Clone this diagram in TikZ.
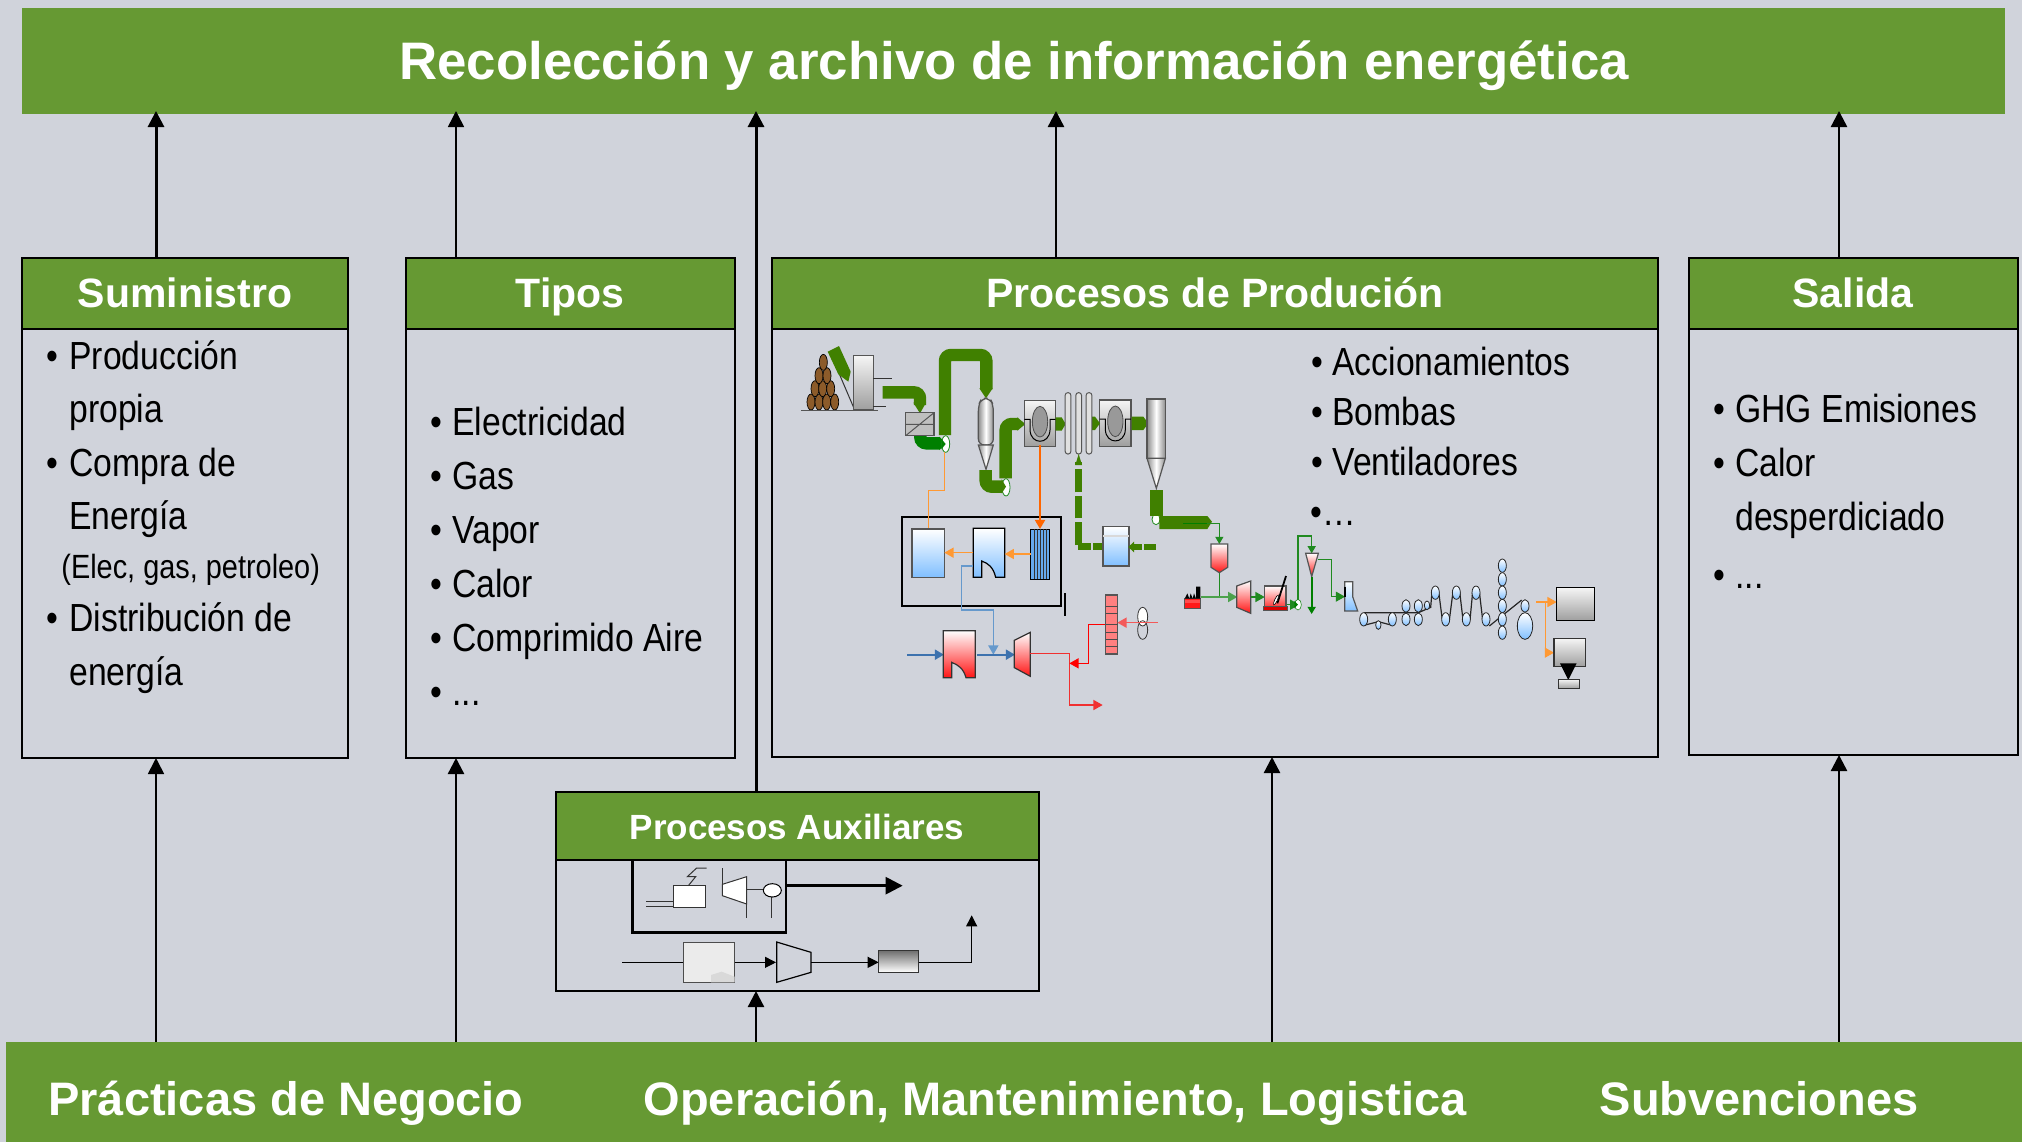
\documentclass[tikz,border=0pt]{standalone}
\usepackage{fontspec}
\setmainfont{Liberation Sans}
\newfontfamily\narrowf[FakeStretch=0.86]{Liberation Sans}
\usetikzlibrary{arrows.meta}
\definecolor{bgc}{HTML}{D0D3DB}
\definecolor{hdr}{HTML}{669933}
\definecolor{pipe}{HTML}{408000}
\definecolor{dgreen}{HTML}{007F00}
\definecolor{lgreen}{HTML}{208A20}
\definecolor{orl}{HTML}{FF9933}
\definecolor{orh}{HTML}{FF6600}
\definecolor{bll}{HTML}{6699CC}
\definecolor{bld}{HTML}{3D72AE}
\definecolor{redl}{HTML}{F03030}
\definecolor{edge}{HTML}{555555}
\definecolor{skyb}{HTML}{80BFFF}
\definecolor{gridb}{HTML}{66AAEE}
\tikzset{
  boxhead/.style={fill=hdr,draw=black,line width=1.2pt},
  boxbody/.style={draw=black,line width=1.2pt},
  bannertxt/.style={anchor=base,text=white,font=\bfseries\fontsize{26.4}{26}\selectfont,inner sep=0},
  foottxt/.style={anchor=base,text=white,font=\bfseries\fontsize{23.5}{24}\selectfont,inner sep=0},
  headtxt/.style={anchor=base,text=white,font=\bfseries\fontsize{20.5}{20}\selectfont,inner sep=0},
  auxtxt/.style={anchor=base,text=white,font=\bfseries\fontsize{17.5}{17}\selectfont,inner sep=0},
  itm/.style={anchor=base west,font=\narrowf\fontsize{19.6}{20}\selectfont,inner sep=0},
  sm/.style={anchor=base west,font=\narrowf\fontsize{16.8}{16}\selectfont,inner sep=0},
  up/.style={-{Triangle[length=8pt,width=8pt]},black},
  tipS/.style={-{Triangle[length=3.6pt,width=4pt]}},
  tipM/.style={-{Triangle[length=4.6pt,width=5pt]}},
  bluegrad/.style={top color=white,bottom color=skyb,draw=edge,line width=.6pt},
  redgrad/.style={top color=white,bottom color=red!92!white,draw=edge,line width=.6pt},
  steel/.style={top color=white!96!black,bottom color=black!38,draw=edge,line width=.6pt},
  cyl/.style={left color=black!45,right color=black!45,middle color=white,draw=edge,line width=.6pt},
  pipeline/.style={pipe,line width=6.2pt,rounded corners=3pt},
  thin/.style={line width=.5pt},
}
\begin{document}
\begin{tikzpicture}[x=0.5pt,y=-0.5pt]
\useasboundingbox (0,0) rectangle (2022,1142);
\fill[bgc] (0,0) rectangle (2022,1142);

% banners
\path[fill=hdr] (22,8) rectangle (2005,114);
\path[fill=hdr] (6,1042) rectangle (2022,1142);
\coordinate (titleS) at (1000,114);
\coordinate (footN) at (1000,1042);
\node[bannertxt] (title) at (1014,79) {Recolección y archivo de información energética};
\node[foottxt] (f1) at (286,1115) {Prácticas de Negocio};
\node[foottxt] (f2) at (1055,1115) {Operación, Mantenimiento, Logistica};
\node[foottxt] (f3) at (1759,1115) {Subvenciones};

% boxes
\draw[boxbody] (22,258) rectangle (348,758);
\draw[boxhead] (22,258) rectangle (348,329);
\draw[boxbody] (406,258) rectangle (735,758);
\draw[boxhead] (406,258) rectangle (735,329);
\draw[boxbody] (772,258) rectangle (1658,757);
\draw[boxhead] (772,258) rectangle (1658,329);
\draw[boxbody] (1689,258) rectangle (2018,755);
\draw[boxhead] (1689,258) rectangle (2018,329);
\draw[boxbody] (556,792) rectangle (1039,991);
\draw[boxhead] (556,792) rectangle (1039,860);

\coordinate (sumN) at (185,258); \coordinate (sumS) at (185,758);
\coordinate (tipN) at (570,258); \coordinate (tipS) at (570,758);
\coordinate (proN) at (1214,258); \coordinate (proS) at (1214,757);
\coordinate (salN) at (1853,258); \coordinate (salS) at (1853,755);
\coordinate (auxN) at (797,792); \coordinate (auxS) at (797,991);
\coordinate (a1) at (156,0); \coordinate (a2) at (456,0); \coordinate (a3) at (756,0);
\coordinate (a4) at (1056,0); \coordinate (a5) at (1839,0); \coordinate (a6) at (1272,0);

% arrows to title
\draw[up,line width=1.5pt] (sumN-|a1) -- ([yshift=1.5pt]titleS-|a1);
\draw[up,line width=.8pt] (tipN-|a2) -- ([yshift=1.5pt]titleS-|a2);
\draw[up,line width=1.5pt] (auxN-|a3) -- ([yshift=1.5pt]titleS-|a3);
\draw[up,line width=1.2pt] (proN-|a4) -- ([yshift=1.5pt]titleS-|a4);
\draw[up,line width=1.2pt] (salN-|a5) -- ([yshift=1.5pt]titleS-|a5);
% arrows from footer
\draw[up,line width=.9pt] (footN-|a1) -- (sumS-|a1);
\draw[up,line width=1.2pt] (footN-|a2) -- (tipS-|a2);
\draw[up,line width=1.2pt] (footN-|a3) -- (auxS-|a3);
\draw[up,line width=1.2pt] (footN-|a6) -- (proS-|a6);
\draw[up,line width=1.2pt] (footN-|a5) -- (salS-|a5);

% heads
\node[headtxt] (hsum) at (185,307) {Suministro};
\node[headtxt] (htip) at (570,307) {Tipos};
\node[headtxt] (hpro) at (1215,307) {Procesos de Produción};
\node[headtxt] (hsal) at (1853,307) {Salida};
\node[auxtxt] (haux) at (797,839) {Procesos Auxiliares};

% lists
\node[itm] (s1b) at (46,369) {•}; \node[itm] (s1) at (69,369) {Producción};
\node[itm] (s2) at (69,422) {propia};
\node[itm] (s3b) at (46,476) {•}; \node[itm] (s3) at (69,476) {Compra de};
\node[itm] (s4) at (69,529) {Energía};
\node[sm] (s5) at (61,578) {(Elec, gas, petroleo)};
\node[itm] (s6b) at (46,631) {•}; \node[itm] (s6) at (69,631) {Distribución de};
\node[itm] (s7) at (69,685) {energía};

\node[itm] (t1b) at (430,435) {•}; \node[itm] (t1) at (452,435) {Electricidad};
\node[itm] (t2b) at (430,489) {•}; \node[itm] (t2) at (452,489) {Gas};
\node[itm] (t3b) at (430,543) {•}; \node[itm] (t3) at (452,543) {Vapor};
\node[itm] (t4b) at (430,597) {•}; \node[itm] (t4) at (452,597) {Calor};
\node[itm] (t5b) at (430,651) {•}; \node[itm] (t5) at (452,651) {Comprimido Aire};
\node[itm] (t6b) at (430,705) {•}; \node[itm] (t6) at (452,705) {...};

\node[itm] (p1b) at (1311,375) {•}; \node[itm] (p1) at (1332,375) {Accionamientos};
\node[itm] (p2b) at (1311,425) {•}; \node[itm] (p2) at (1332,425) {Bombas};
\node[itm] (p3b) at (1311,475) {•}; \node[itm] (p3) at (1332,475) {Ventiladores};
\node[itm] (p4b) at (1310,525) {•…};

\node[itm] (o1b) at (1713,422) {•}; \node[itm] (o1) at (1735,422) {GHG Emisiones};
\node[itm] (o2b) at (1713,476) {•}; \node[itm] (o2) at (1735,476) {Calor};
\node[itm] (o3) at (1735,530) {desperdiciado};
\node[itm] (o4b) at (1713,588) {•}; \node[itm] (o4) at (1735,588) {...};

% ===== process schematic, part 1 (zoom coordinates)
\begin{scope}[shift={(780,330)},scale=1/3]
  % logs
  \foreach \x/\y in {93/216,117/216,140/216,164/216,105/176,128/176,152/176,117/137,141/137,130/97}
    \draw[fill=brown!70!black!95!orange,draw=black,line width=.35pt] (\x,\y) ellipse [x radius=12,y radius=24];
  \draw[edge,line width=.6pt] (63,241) -- (295,241);
  \draw[thin,black!80] (175,125) -- (222,235);
  \fill[pipe] (143,65) -- (177,48) -- (212,125) -- (205,155) -- (175,133) -- cycle;
  \path[steel] (221,77) rectangle (280,240);
  \draw[thin,black!80] (280,145) -- (335,145) (280,228) -- (318,228);
  % pipes
  \draw[pipeline] (308,187) -- (420,187) -- (420,225);
  \fill[pipe] (400,218) -- (438,218) -- (420,250) -- cycle;
  \path[fill=black!25,draw=edge,line width=.6pt] (377,248) rectangle (462,317);
  \draw[edge,line width=.5pt] (377,283) -- (462,283) (377,317) -- (462,248);
  \draw[pipeline] (495,315) -- (495,75) -- (619,75) -- (619,178);
  \fill[pipe] (598,175) -- (638,175) -- (618,205) -- cycle;
  \draw[dgreen,line width=6.2pt,rounded corners=3pt] (421,318) -- (421,340) -- (480,340);
  \fill[dgreen] (478,320) -- (498,340) -- (478,360) -- cycle;
  \draw[fill=white,draw=lgreen,line width=.4pt] (497,342) ellipse [x radius=12,y radius=25];
  \fill[dgreen] (484,326) -- (497,342) -- (484,358) -- cycle;
  % cyclone 1
  \path[cyl,rounded corners=3pt] (595,345) -- (595,225) -- (605,205) -- (630,205) -- (640,225) -- (640,345) -- cycle;
  \path[cyl] (595,345) -- (640,345) -- (618,418) -- cycle;
  % pipe 2
  \draw[pipeline] (617,420) -- (617,470) -- (670,470);
  \draw[fill=white,draw=lgreen,line width=.4pt] (678,472) ellipse [x radius=12,y radius=26];
  \fill[pipe] (665,448) -- (678,470) -- (665,490) -- cycle;
  \draw[pipeline] (677,445) -- (677,282) -- (715,282);
  \fill[pipe] (712,262) -- (736,282) -- (712,302) -- cycle;
  % mills
  \foreach \dx/\dy in {0/0,226/-1}{
    \path[steel] (733+\dx,211+\dy) rectangle (827+\dx,350+\dy);
    \draw[fill=black!40,draw=black!70,line width=.4pt] (780+\dx,275+\dy) ellipse [x radius=23,y radius=46];
    \draw[black,line width=.5pt] (733+\dx,268+\dy) -- (750+\dx,268+\dy) -- (750+\dx,300+\dy) .. controls (752+\dx,345+\dy) and (808+\dx,345+\dy) .. (810+\dx,300+\dy) -- (810+\dx,268+\dy) -- (827+\dx,268+\dy);
  }
  \fill[pipe] (827,262) -- (845,262) -- (857,282) -- (845,302) -- (827,302) -- cycle;
  \fill[pipe] (935,260) -- (945,260) -- (960,280) -- (945,300) -- (935,300) -- cycle;
  \fill[pipe] (1055,260) -- (1090,260) -- (1105,280) -- (1090,300) -- (1055,300) -- cycle;
  % tube bundle
  \foreach \x in {864,896,927}
    \draw[fill=white!88!black,draw=edge,line width=.5pt,rounded corners=1.3pt] (\x-8.5,188) rectangle (\x+8.5,372);
  % cyclone 2
  \path[cyl] (1101,207) rectangle (1156,385);
  \path[cyl] (1101,385) -- (1156,385) -- (1129,475) -- cycle;
  % pipe 3
  \draw[fill=white,draw=lgreen,line width=.4pt] (1128,568) ellipse [x radius=12,y radius=16];
  \fill[pipe] (1110,479) -- (1149,479) -- (1149,558) -- (1110,558) -- cycle;
  \fill[pipe] (1138,558) -- (1282,558) -- (1296,575) -- (1282,597) -- (1138,597) -- cycle;
  \draw[dgreen,line width=.6pt] (1210,581) -- (1280,581);
  \draw[lgreen,line width=.6pt,tipS] (1280,581) -- (1318,581) -- (1318,642);
  % dashed feed
  \draw[pipe,line width=3.2pt] (896,645) -- (896,575) (896,565) -- (896,497) (896,487) -- (896,418) (896,405) -- (896,395);
  \fill[pipe] (886,405) -- (906,405) -- (896,372) -- cycle;
  \draw[pipe,line width=3.2pt] (893,650) -- (933,650) (940,650) -- (970,650);
  \path[bluegrad] (969,590) rectangle (1047,708);
  \draw[black!15,line width=.8pt] (970,618) -- (1046,618);
  \draw[pipe,line width=3.2pt] (1127,651) -- (1093,651) (1085,651) -- (1060,651);
  \fill[pipe] (1062,635) -- (1062,667) -- (1045,651) -- cycle;
  % boiler house
  \draw[black,line width=1.1pt] (366,562) rectangle (844,828);
  \draw[black,line width=1.1pt] (855,790) -- (855,858);
  \draw[orl,line width=.7pt] (493,365) -- (493,482) -- (445,482) -- (445,597);
  \draw[orh,line width=1.2pt,tipM] (780,345) -- (780,597);
  \path[bluegrad] (396,597) rectangle (493,742);
  \path[bluegrad,draw=black] (580,595) -- (674,595) -- (674,742) -- (647,742) .. controls (640,712) and (625,700) .. (605,693) -- (605,742) -- (580,742) -- cycle;
  \path[fill=gridb,draw=black,line width=.5pt] (752,597) rectangle (808,748);
  \foreach \x in {762,771,780,790,799} \draw[black!80,line width=.5pt] (\x,597) -- (\x,748);
  \draw[orl,line width=.7pt,tipM] (752,672) -- (674,672);
  \draw[orl,line width=.7pt,tipM] (580,668) -- (493,668);
\end{scope}

% ===== process schematic, part 2
\begin{scope}[shift={(880,500)},scale=1/3]
  \draw[bll,line width=.7pt,tipM] (278,198) -- (245,198) -- (245,330) -- (340,330) -- (340,464);
  \draw[bld,line width=1.1pt,tipM] (82,464) -- (192,464);
  \draw[bld,line width=1.1pt,tipM] (291,464) -- (405,464);
  \path[redgrad,draw=black!80] (190,392) -- (286,392) -- (286,533) -- (258,533) .. controls (250,505) and (235,495) .. (215,487) -- (215,533) -- (190,533) -- cycle;
  \path[redgrad,draw=black!80] (403,421) -- (451,397) -- (451,529) -- (403,503) -- cycle;
  \draw[redl,line width=.7pt,tipM] (451,461) -- (568,461) -- (568,615) -- (668,615);
  \draw[red,line width=.6pt,tipM] (677,373) -- (625,373) -- (625,490) -- (568,490);
  \path[fill=red!50,draw=edge,line width=.6pt] (677,285) rectangle (713,462);
  \foreach \y in {319,341,374,396,418,440} \draw[black!70,line width=.4pt] (677,\y) -- (713,\y);
  \draw[fill=white,draw=black!80,line width=.4pt] (788,350) ellipse [x radius=15,y radius=28];
  \draw[black!80,line width=.4pt] (788,390) ellipse [x radius=15,y radius=28];
  \draw[redl!80,line width=.8pt,tipM] (833,368) -- (712,368);
  % factory
  \path[fill=red!90,draw=edge,line width=.4pt] (913,296) rectangle (961,325);
  \fill[white!30!red] (914,300) rectangle (960,310);
  \fill[black] (914,296) -- (922,280) -- (928,296) -- (932,280) -- (938,296) -- (942,280) -- (948,296) -- (948,260) -- (961,260) -- (961,296) -- cycle;
  % green line & hopper
  \draw[lgreen,line width=.7pt] (1018,215) -- (1018,291);
  \draw[lgreen!80,line width=.8pt,tipM] (962,291) -- (1072,291);
  \path[redgrad] (993,132) -- (1043,132) -- (1043,202) -- (1018,218) -- (993,202) -- cycle;
  \path[redgrad,draw=black!70] (1070,258) -- (1112,243) -- (1112,340) -- (1070,322) -- cycle;
\end{scope}

% ===== process schematic, part 3
\begin{scope}[shift={(1170,520)},scale=1/3]
  \draw[lgreen,line width=.7pt,tipM] (243,231) -- (284,231);
  \path[redgrad] (283,198) rectangle (348,272);
  \path[fill=red!85!black,draw=edge,line width=.4pt] (280,258) rectangle (352,272);
  \draw[black,line width=.9pt] (348,168) -- (322,250);
  \draw[fill=white,draw=black,line width=.3pt,rotate around={-25:(318,240)}] (318,240) ellipse [x radius=4,y radius=16];
  \draw[lgreen,line width=.7pt,tipM] (352,254) -- (388,254);
  \draw[fill=white,draw=lgreen,line width=.3pt] (384,254) ellipse [x radius=10,y radius=16];
  \fill[dgreen] (373,243) -- (384,254) -- (373,265) -- cycle;
  \draw[lgreen,line width=.7pt,tipS] (384,240) -- (384,48) -- (425,48) -- (425,100);
  \path[redgrad] (407,100) -- (445,100) -- (425,170) -- cycle;
  \draw[dgreen,line width=1pt,tipS] (425,170) -- (425,282);
  \draw[lgreen,line width=.6pt,tipM] (445,118) -- (485,118) -- (485,230) -- (525,230);
  \path[bluegrad] (524,185) -- (548,185) -- (548,230) -- (563,273) -- (524,273) -- cycle;
  \draw[black,line width=1pt] (524,200) -- (524,230);
  % web
  \draw[black!85,line width=.6pt] (581,278) -- (745,278) -- (782,262) -- (786,215);
  \draw[black!85,line width=.6pt] (581,316) -- (625,305) -- (667,316);
  \draw[black!85,line width=.6pt] (806,215) -- (817,300) (838,300) -- (849,215) (869,215) -- (879,300) (900,300) -- (908,215) (928,215) -- (938,300) (958,318) -- (1055,240);
  \foreach \x/\y/\a/\b in {581/298/12/20,625/315/8/13,667/298/12/20,708/258/12/19,708/298/12/19,745/258/12/19,745/298/12/19,771/256/8/13,796/218/12/20,827/298/12/20,859/218/12/20,889/298/12/20,918/218/12/20,948/298/12/20,997/137/12/20,997/178/12/20,997/218/12/20,997/258/12/20,997/298/12/20,997/338/12/20,1065/258/12/19,1065/318/23/40}
    \draw[top color=white,bottom color=skyb,draw=black!85,line width=.4pt] (\x,\y) ellipse [x radius=\a,y radius=\b];
  % reels
  \draw[orl,line width=.7pt,tipM] (1098,246) -- (1160,246);
  \draw[orl,line width=.7pt,tipM] (1126,246) -- (1126,398) -- (1152,398);
  \path[steel,draw=black] (1160,203) rectangle (1274,302);
  \path[steel,draw=black!80] (1152,355) rectangle (1247,440);
  \fill[black] (1170,430) -- (1220,430) -- (1195,480) -- cycle;
  \path[steel,draw=black!80] (1166,478) rectangle (1229,506);
\end{scope}

% ===== auxiliary processes
\begin{scope}[shift={(550,780)},scale=1/3]
  \draw[black,line width=1.2pt] (248,238) -- (248,457) -- (708,457) -- (708,238);
  \draw[black!80,line width=.5pt] (288,365) -- (371,365) (288,380) -- (371,380);
  \path[fill=white,draw=black!80,line width=.5pt] (371,317) rectangle (467,383);
  \draw[black!80,line width=.5pt] (470,264) -- (440,264) -- (412,290) -- (437,290) -- (415,317);
  \draw[black!80,line width=.5pt] (517,264) -- (517,347) (590,372) -- (590,415) (590,329) -- (640,329) (665,352) -- (665,415);
  \path[fill=white,draw=black!80,line width=.5pt] (517,313) -- (590,290) -- (590,372) -- (517,347) -- cycle;
  \path[fill=white,draw=black,line width=.5pt] (667,331) ellipse [x radius=27,y radius=20];
  \draw[black,line width=1.3pt,-{Triangle[length=8.5pt,width=8.5pt]}] (708,317) -- (1058,317);
  \draw[black,line width=.6pt] (217,547) -- (400,547);
  \path[fill=black!8,draw=black!70,line width=.5pt] (401,486) rectangle (554,607);
  \fill[black!15] (483,607) -- (483,585) -- (515,575) -- (554,590) -- (554,607) -- cycle;
  \draw[black,line width=.6pt,-{Triangle[length=5.5pt,width=5.5pt]}] (554,547) -- (678,547);
  \draw[black,line width=.6pt] (680,486) -- (783,517) -- (783,577) -- (680,607) -- cycle;
  \draw[black,line width=.6pt,-{Triangle[length=5.5pt,width=5.5pt]}] (783,547) -- (986,547);
  \path[top color=black!45!gray!80,bottom color=white,draw=black!80,line width=.5pt] (985,510) rectangle (1106,577);
  \draw[black,line width=.6pt,-{Triangle[length=5.5pt,width=5.5pt]}] (1106,547) -- (1265,547) -- (1265,406);
\end{scope}
\end{tikzpicture}
\end{document}
